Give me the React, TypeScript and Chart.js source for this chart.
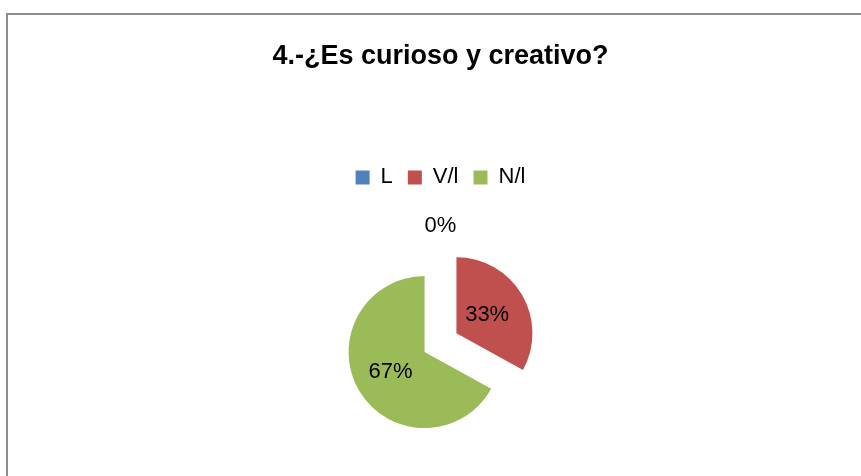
import React, { useEffect, useRef } from "react";
import { Chart, registerables } from "chart.js";

Chart.register(...registerables);

const TITLE = "4.-¿Es curioso y creativo?";
const categories = ["L", "V/l", "N/l"];
const values = [0, 33, 67];
const colors = ["#4F81BD", "#C0504D", "#9BBB59"];

const FONT = "'Liberation Sans', Arial, sans-serif";
const PIE_R = 76;
const EXPLODE = [0, 74, 74]; // Chart.js offset units (drawn offset = value / 4)
const LABEL_DIST = [1.53, 0.47, 0.52]; // label distance, in radii, from slice centre

const borderPlugin = {
  id: "frameBorder",
  beforeDraw(chart: any) {
    const ctx = chart.ctx;
    ctx.save();
    ctx.fillStyle = "#8d8d8d";
    ctx.fillRect(6, 13, 2, 500);
    ctx.fillRect(6, 13, 900, 2);
    ctx.restore();
  },
};

// Keep exploded slices at the same radius and with straight radial edges.
const fixRadiusPlugin = {
  id: "fixRadius",
  afterDatasetUpdate(chart: any, args: any) {
    const meta = chart.getDatasetMeta(args.index);
    meta.data.forEach((arc: any, i: number) => {
      const off = EXPLODE[i] / 4;
      const circ = arc.circumference || 0;
      if (!circ) return;
      const fix = 1 - Math.sin(Math.min(Math.PI, circ));
      const radiusOffset = off * fix;
      arc.outerRadius = PIE_R - radiusOffset;
      const ao = radiusOffset / (2 * Math.PI * PIE_R);
      arc.startAngle -= ao;
      arc.endAngle += ao;
    });
  },
};

const labelsPlugin = {
  id: "pctLabels",
  afterDatasetsDraw(chart: any) {
    const meta = chart.getDatasetMeta(0);
    const ctx = chart.ctx;
    const total = values.reduce((a, b) => a + b, 0);
    ctx.save();
    ctx.font = `22px ${FONT}`;
    ctx.fillStyle = "#000";
    ctx.textAlign = "center";
    ctx.textBaseline = "middle";
    meta.data.forEach((arc: any, i: number) => {
      const mid = (arc.startAngle + arc.endAngle) / 2;
      const off = EXPLODE[i] / 4;
      const dist = off + PIE_R * LABEL_DIST[i];
      const x = arc.x + Math.cos(mid) * dist;
      const y = arc.y + Math.sin(mid) * dist;
      const pct = Math.round((values[i] / total) * 100);
      ctx.fillText(`${pct}%`, x, y);
    });
    ctx.restore();
  },
};

export default function App() {
  const ref = useRef<HTMLCanvasElement | null>(null);

  useEffect(() => {
    if (!ref.current) return;
    const chart = new Chart(ref.current, {
      type: "pie",
      data: {
        labels: categories,
        datasets: [
          {
            data: values,
            backgroundColor: colors,
            borderWidth: 0,
            offset: EXPLODE,
            radius: PIE_R,
          } as any,
        ],
      },
      options: {
        responsive: false,
        animation: false,
        events: [],
        layout: { padding: { left: 20, right: 0, top: 0, bottom: 3 } },
        plugins: {
          title: {
            display: true,
            text: TITLE,
            color: "#000",
            font: { family: FONT, size: 27, weight: "bold", lineHeight: 1.2 },
            padding: { top: 40, bottom: 79 },
          },
          legend: {
            display: true,
            position: "top",
            labels: {
              boxWidth: 14,
              boxHeight: 14,
              padding: 15,
              color: "#000",
              font: { family: FONT, size: 22 },
            },
          },
          tooltip: { enabled: false },
        },
      } as any,
      plugins: [borderPlugin, fixRadiusPlugin, labelsPlugin],
    });
    return () => chart.destroy();
  }, []);

  return (
    <div
      style={{
        position: "fixed",
        left: 0,
        top: 0,
        width: 861,
        height: 476,
        overflow: "hidden",
        background: "#fff",
      }}
    >
      <canvas ref={ref} width={861} height={490} style={{ display: "block" }} />
    </div>
  );
}
